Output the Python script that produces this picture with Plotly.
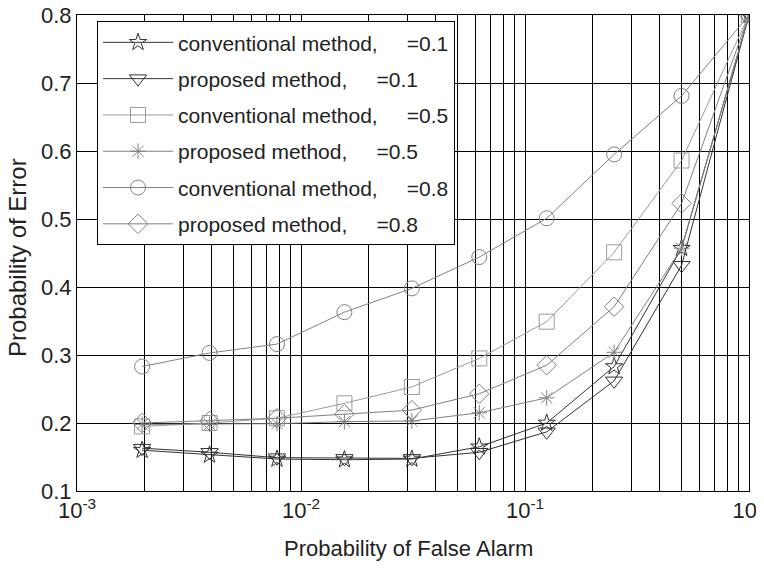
import plotly.graph_objects as go

pfa = [2**-9, 2**-8, 2**-7, 2**-6, 2**-5, 2**-4, 2**-3, 2**-2, 2**-1, 1.0]

conv_01 = [0.160, 0.153, 0.147, 0.146, 0.147, 0.165, 0.200, 0.283, 0.457, 0.800]
prop_01 = [0.163, 0.157, 0.149, 0.148, 0.148, 0.157, 0.187, 0.262, 0.432, 0.800]
conv_05 = [0.195, 0.200, 0.207, 0.229, 0.253, 0.295, 0.349, 0.451, 0.586, 0.800]
prop_05 = [0.198, 0.198, 0.199, 0.202, 0.203, 0.215, 0.237, 0.304, 0.457, 0.800]
conv_08 = [0.283, 0.303, 0.316, 0.363, 0.398, 0.444, 0.501, 0.595, 0.681, 0.800]
prop_08 = [0.200, 0.203, 0.207, 0.213, 0.219, 0.243, 0.285, 0.371, 0.523, 0.800]

names = ["conventional method,     =0.1", "proposed method,     =0.1",
         "conventional method,     =0.5", "proposed method,     =0.5",
         "conventional method,     =0.8", "proposed method,     =0.8"]
series = [conv_01, prop_01, conv_05, prop_05, conv_08, prop_08]
symbols = ["star-open", "triangle-down-open", "square-open", "asterisk-open", "circle-open", "diamond-open"]
colors = ["#333333", "#333333", "#9a9a9a", "#808080", "#808080", "#808080"]
msizes = [13, 15, 15, 13, 15, 15]

x_tickvals = [1e-3, 1e-2, 1e-1, 1]
x_ticktext = ["10<sup>-3</sup>", "10<sup>-2</sup>", "10<sup>-1</sup>", "10<sup>0</sup>"]
y_tickvals = [0.1, 0.2, 0.3, 0.4, 0.5, 0.6, 0.7, 0.8]

x_title = "Probability of False Alarm"
y_title = "Probability of Error"

fig = go.Figure()
for i, (nm, ys, sym, col, ms) in enumerate(zip(names, series, symbols, colors, msizes)):
    fig.add_trace(go.Scatter(
        x=pfa, y=ys, name=nm, mode="lines+markers",
        line=dict(color=col, width=1),
        marker=dict(symbol=sym, size=ms, color=col, line=dict(color=col, width=1)),
        legendgroup="g%d" % i,
    ))

FAM = "Liberation Sans, Arial, sans-serif"
TXT = "#222222"

fig.update_layout(
    width=756, height=562,
    margin=dict(l=69, r=15, t=7, b=79),
    paper_bgcolor="white", plot_bgcolor="white",
    font=dict(family=FAM, size=22, color=TXT),
    showlegend=True,
    legend=dict(
        x=0.0298, y=0.987, xanchor="left", yanchor="top",
        bgcolor="white", bordercolor="black", borderwidth=1,
        font=dict(family=FAM, size=21, color=TXT),
        itemwidth=70, tracegroupgap=6,
    ),
    xaxis=dict(
        type="log", range=[-3, 0], automargin=False,
        tickvals=x_tickvals, ticktext=x_ticktext,
        ticklabeloverflow="allow",
        showgrid=True, gridcolor="black", gridwidth=1,
        ticks="inside", ticklen=4, tickcolor="black",
        minor=dict(dtick="D1", showgrid=True, gridcolor="black", gridwidth=1, ticks=""),
        showline=True, linecolor="black", linewidth=1, mirror="ticks",
        zeroline=False,
        tickfont=dict(size=22),
    ),
    yaxis=dict(
        range=[0.1, 0.8], automargin=False,
        tickvals=y_tickvals, ticktext=["%.1f" % v for v in y_tickvals],
        ticklabeloverflow="allow",
        showgrid=True, gridcolor="black", gridwidth=1,
        ticks="inside", ticklen=4, tickcolor="black",
        showline=True, linecolor="black", linewidth=1, mirror="ticks",
        zeroline=False,
        tickfont=dict(size=22),
    ),
    annotations=[
        dict(text=x_title, xref="paper", yref="paper", x=0.494, y=-0.12,
             xanchor="center", yanchor="middle", showarrow=False,
             font=dict(family=FAM, size=22, color=TXT)),
        dict(text=y_title, xref="paper", yref="paper", x=-0.0885, y=0.4905,
             xanchor="center", yanchor="middle", showarrow=False, textangle=-90,
             font=dict(family=FAM, size=24, color=TXT)),
    ],
)

fig.write_html("out.html")
